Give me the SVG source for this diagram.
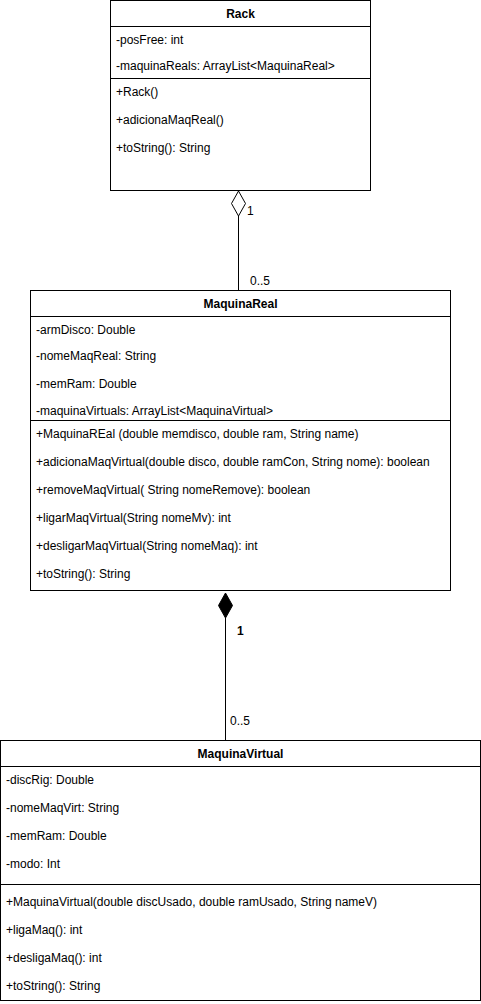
<svg xmlns="http://www.w3.org/2000/svg" width="481" height="1004" viewBox="0 0 481 1004">
<style>
.box{fill:#fff;stroke:#000;stroke-width:1}
.ln{stroke:#000;stroke-width:1;fill:none}
text{font-family:"Liberation Sans",Arial,sans-serif;font-size:12px;fill:#000}
.t{font-weight:bold;text-anchor:middle}
</style>
<rect width="481" height="1004" fill="#fff"/>
<g id="connectors">
<line class="ln" x1="238.5" y1="216" x2="238.5" y2="290"/>
<path d="M238.5 191 L245.5 203.5 L238.5 216 L231.5 203.5 Z" fill="#fff" stroke="#000"/>
<text x="247" y="215">1</text>
<text x="250" y="285">0..5</text>
<line class="ln" x1="225.5" y1="618" x2="225.5" y2="740"/>
<path d="M225.5 593 L232.5 605.5 L225.5 618 L218.5 605.5 Z" fill="#000" stroke="#000"/>
<text x="237" y="635" font-weight="bold">1</text>
<text x="230" y="725">0..5</text>
</g>
<g id="Rack">
<rect class="box" x="110.5" y="0.5" width="260" height="190"/>
<line class="ln" x1="110.5" y1="26.5" x2="370.5" y2="26.5"/>
<line class="ln" x1="110.5" y1="78.5" x2="370.5" y2="78.5"/>
<text class="t" x="240.5" y="18">Rack</text>
<text x="116" y="44">-posFree: int</text>
<text x="116" y="70">-maquinaReals: ArrayList&lt;MaquinaReal&gt;</text>
<text x="116" y="96">+Rack()</text>
<text x="116" y="124">+adicionaMaqReal()</text>
<text x="116" y="152">+toString(): String</text>
</g>
<g id="MaquinaReal">
<rect class="box" x="30.5" y="290.5" width="420" height="300"/>
<line class="ln" x1="30.5" y1="316.5" x2="450.5" y2="316.5"/>
<line class="ln" x1="30.5" y1="420.5" x2="450.5" y2="420.5"/>
<text class="t" x="240.5" y="308">MaquinaReal</text>
<text x="36" y="334">-armDisco: Double</text>
<text x="36" y="360">-nomeMaqReal: String</text>
<text x="36" y="388">-memRam: Double</text>
<text x="36" y="415">-maquinaVirtuals: ArrayList&lt;MaquinaVirtual&gt;</text>
<text x="36" y="438">+MaquinaREal (double memdisco, double ram, String name)</text>
<text x="36" y="466">+adicionaMaqVirtual(double disco, double ramCon, String nome): boolean</text>
<text x="36" y="494">+removeMaqVirtual( String nomeRemove): boolean</text>
<text x="36" y="522">+ligarMaqVirtual(String nomeMv): int</text>
<text x="36" y="550">+desligarMaqVirtual(String nomeMaq): int</text>
<text x="36" y="578">+toString(): String</text>
</g>
<g id="MaquinaVirtual">
<rect class="box" x="0.5" y="740.5" width="480" height="260"/>
<line class="ln" x1="0.5" y1="766.5" x2="480.5" y2="766.5"/>
<line class="ln" x1="0.5" y1="884.5" x2="480.5" y2="884.5"/>
<text class="t" x="240.5" y="758">MaquinaVirtual</text>
<text x="6" y="784">-discRig: Double</text>
<text x="6" y="812">-nomeMaqVirt: String</text>
<text x="6" y="840">-memRam: Double</text>
<text x="6" y="868">-modo: Int</text>
<text x="6" y="906">+MaquinaVirtual(double discUsado, double ramUsado, String nameV)</text>
<text x="6" y="934">+ligaMaq(): int</text>
<text x="6" y="962">+desligaMaq(): int</text>
<text x="6" y="990">+toString(): String</text>
</g>
</svg>
